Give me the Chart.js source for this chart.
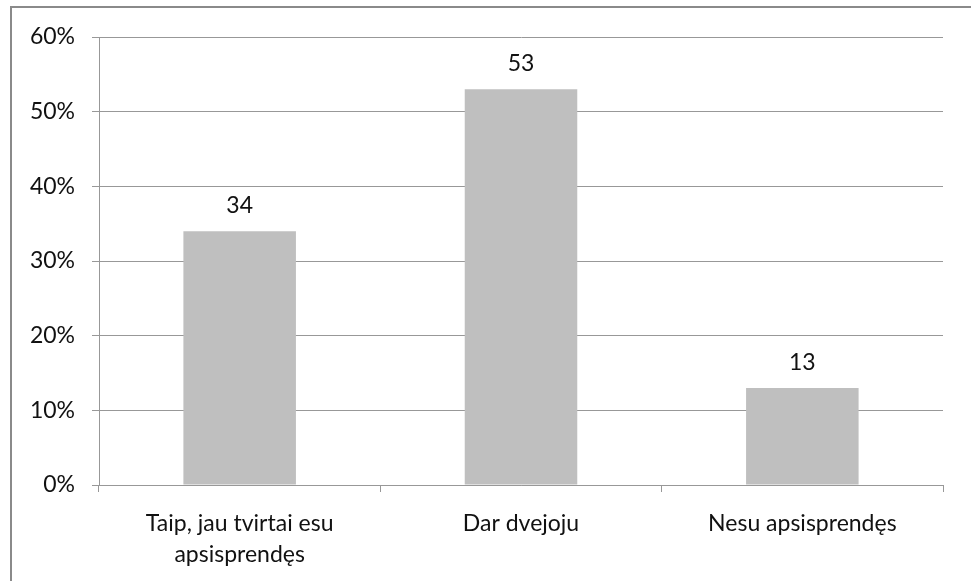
<!DOCTYPE html>
<html>
<head>
<meta charset="utf-8">
<script src="https://cdn.jsdelivr.net/npm/chart.js@4.4.0/dist/chart.umd.min.js"></script>
<style>
  html, body { margin: 0; padding: 0; background: #fff; }
  #wrap { position: relative; width: 971px; height: 581px; }
  #frame {
    position: absolute; left: 10px; top: 6px; right: 0; bottom: 0;
    border-left: 2px solid #8a8a8a; border-top: 2px solid #8a8a8a;
    pointer-events: none;
  }
  canvas { position: absolute; left: 0; top: 0; }
</style>
</head>
<body>
<div id="wrap">
  <canvas id="chart" width="971" height="581"></canvas>
  <div id="frame"></div>
</div>
<script>
// ------------------- Data -------------------
const categories = [
  ['Taip, jau tvirtai esu', 'apsisprendęs'],
  'Dar dvejoju',
  'Nesu apsisprendęs'
];
const shares = [34, 53, 13];
const yTicks = [0, 10, 20, 30, 40, 50, 60];

const FONT = 'Lato, "Open Sans", sans-serif';
const TEXT = '#111';
const LINE = '#989898';

// ------------------- Plugin: value labels above bars -------------------
const valueLabels = {
  id: 'valueLabels',
  afterDatasetsDraw(chart) {
    const { ctx } = chart;
    const meta = chart.getDatasetMeta(0);
    ctx.save();
    ctx.font = '23px ' + FONT;
    ctx.fillStyle = TEXT;
    ctx.textAlign = 'center';
    ctx.textBaseline = 'alphabetic';
    meta.data.forEach((bar, i) => {
      ctx.fillText(String(shares[i]), bar.x, bar.y - 18);
    });
    ctx.restore();
  }
};

new Chart(document.getElementById('chart'), {
  type: 'bar',
  data: {
    labels: categories,
    datasets: [{
      data: shares,
      backgroundColor: '#bfbfbf',
      borderWidth: 0,
      barPercentage: 0.8,
      categoryPercentage: 0.5
    }]
  },
  options: {
    responsive: false,
    animation: false,
    layout: { padding: { left: 0, top: 37, right: 28, bottom: 0 } },
    plugins: {
      legend: { display: false },
      tooltip: { enabled: false }
    },
    scales: {
      y: {
        min: 0,
        max: 60,
        afterFit: s => { s.width = 99; },
        afterBuildTicks: s => { s.ticks = yTicks.map(v => ({ value: v })); },
        ticks: {
          color: TEXT,
          font: { family: FONT, size: 23 },
          padding: 17,
          callback: v => v + '%'
        },
        grid: { color: LINE, lineWidth: 1, tickLength: 7, drawTicks: true },
        border: { display: true, color: LINE, width: 1 }
      },
      x: {
        afterFit: s => { s.height = 96; },
        ticks: {
          color: TEXT,
          font: { family: FONT, size: 23, lineHeight: 1.35 },
          padding: 16,
          maxRotation: 0,
          autoSkip: false
        },
        grid: { display: true, drawOnChartArea: false, color: LINE, tickLength: 7, offset: true },
        border: { display: true, color: LINE, width: 1 }
      }
    }
  },
  plugins: [valueLabels]
});
</script>
</body>
</html>
